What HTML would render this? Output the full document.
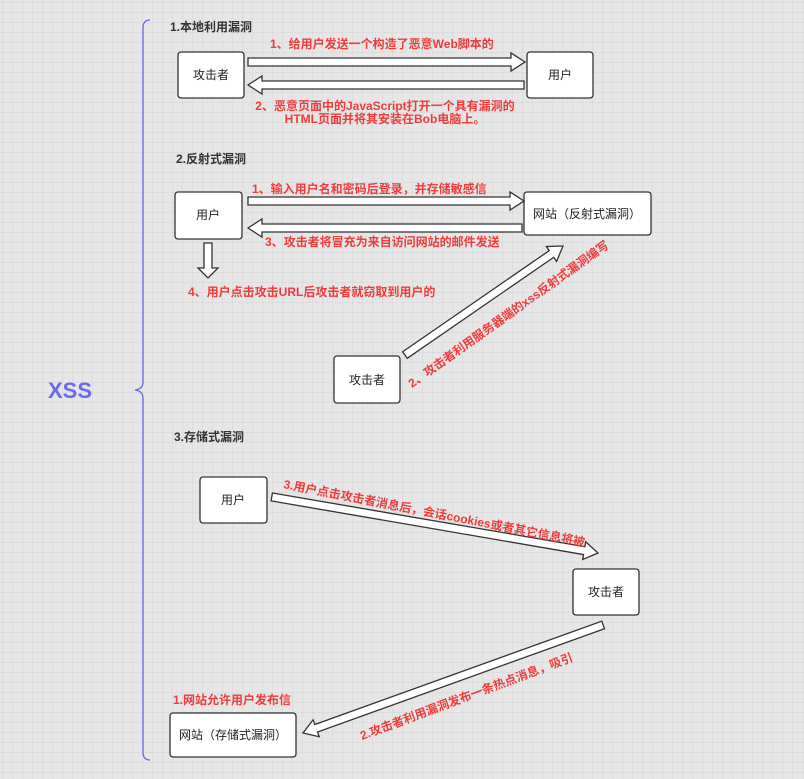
<!DOCTYPE html>
<html><head><meta charset="utf-8"><style>
html,body{margin:0;padding:0;width:804px;height:779px;overflow:hidden;background:#e6e6e6;}
svg{display:block;font-family:"Liberation Sans","Noto Sans CJK SC",sans-serif;}
.b{fill:#fff;stroke:#333;stroke-width:1.3;}
.a{fill:#fff;stroke:#333;stroke-width:1.3;}
.t{font-size:12px;fill:#222;text-anchor:middle;}
.h{font-size:12px;fill:#333;font-weight:bold;}
.r{font-size:12px;fill:#f03c3c;font-weight:bold;}
</style></head><body>
<svg width="804" height="779" viewBox="0 0 804 779">
<defs>
<pattern id="g" width="10" height="10" patternUnits="userSpaceOnUse" x="2" y="2">
<path d="M10 0H0V10" fill="none" stroke="#d4d4d4" stroke-width="1"/>
</pattern>
<polygon id="ar" points="0,-4 -14,-4 -14,-9 0,0 -14,9 -14,4" />
</defs>
<rect width="804" height="779" fill="url(#g)"/>
<!-- brace -->
<path d="M150 20 Q143 20 143 28 V382 Q143 389 135 390 Q143 391 143 398 V752 Q143 760 150 760" fill="none" stroke="#6a6ae8" stroke-width="1.3"/>
<text x="48" y="398" font-size="22" font-weight="bold" fill="#6a6af0">XSS</text>

<!-- section 1 -->
<text class="h" x="170" y="31">1.本地利用漏洞</text>
<rect class="b" x="178" y="52" width="66" height="46" rx="3"/><text class="t" x="211" y="79">攻击者</text>
<rect class="b" x="527" y="52" width="66" height="46" rx="3"/><text class="t" x="560" y="79">用户</text>
<polygon class="a" points="248,58 511,58 511,53 525,62 511,71 511,66 248,66"/>
<polygon class="a" points="524,81 262,81 262,76 248,85 262,94 262,89 524,89"/>
<text class="r" x="270" y="48">1、给用户发送一个构造了恶意Web脚本的</text>
<text class="r" x="385" y="110" text-anchor="middle">2、恶意页面中的JavaScript打开一个具有漏洞的</text>
<text class="r" x="385" y="123" text-anchor="middle">HTML页面并将其安装在Bob电脑上。</text>

<!-- section 2 -->
<text class="h" x="176" y="163">2.反射式漏洞</text>
<rect class="b" x="175" y="192" width="67" height="47" rx="3"/><text class="t" x="208" y="219">用户</text>
<rect class="b" x="524" y="192" width="127" height="43" rx="3"/><text class="t" x="587" y="218">网站（反射式漏洞）</text>
<polygon class="a" points="248,197 510,197 510,192 524,201 510,210 510,205 248,205"/>
<polygon class="a" points="522,224 262,224 262,219 248,228 262,237 262,232 522,232"/>
<polygon class="a" points="204,243 212,243 212,268 218,268 208,278 198,268 204,268"/>
<text class="r" x="252" y="193">1、输入用户名和密码后登录，并存储敏感信</text>
<text class="r" x="265" y="246">3、攻击者将冒充为来自访问网站的邮件发送</text>
<text class="r" x="188" y="296">4、用户点击攻击URL后攻击者就窃取到用户的</text>
<rect class="b" x="334" y="356" width="66" height="47" rx="3"/><text class="t" x="367" y="384">攻击者</text>
<g transform="translate(563,246) rotate(-34.6)"><polygon class="a" points="-192,-4 -14,-4 -14,-9 0,0 -14,9 -14,4 -192,4"/></g>
<text class="r" x="0" y="0" transform="translate(412,388) rotate(-35.5)">2、攻击者利用服务器端的xss反射式漏洞编写</text>

<!-- section 3 -->
<text class="h" x="174" y="441">3.存储式漏洞</text>
<rect class="b" x="200" y="477" width="67" height="46" rx="3"/><text class="t" x="233" y="504">用户</text>
<rect class="b" x="573" y="569" width="66" height="46" rx="3"/><text class="t" x="606" y="596">攻击者</text>
<rect class="b" x="170" y="713" width="126" height="44" rx="3"/><text class="t" x="233" y="739">网站（存储式漏洞）</text>
<g transform="translate(598,553) rotate(9.75)"><polygon class="a" points="-331,-4 -14,-4 -14,-9 0,0 -14,9 -14,4 -331,4"/></g>
<g transform="translate(303,733) rotate(160.2)"><polygon class="a" points="-319,-4 -14,-4 -14,-9 0,0 -14,9 -14,4 -319,4"/></g>
<text class="r" x="0" y="0" transform="translate(283,488) rotate(11)">3.用户点击攻击者消息后，会话cookies或者其它信息将被</text>
<text class="r" x="0" y="0" transform="translate(362,740) rotate(-20.5)">2.攻击者利用漏洞发布一条热点消息，吸引</text>
<text class="r" x="173" y="704">1.网站允许用户发布信</text>
</svg>
</body></html>
